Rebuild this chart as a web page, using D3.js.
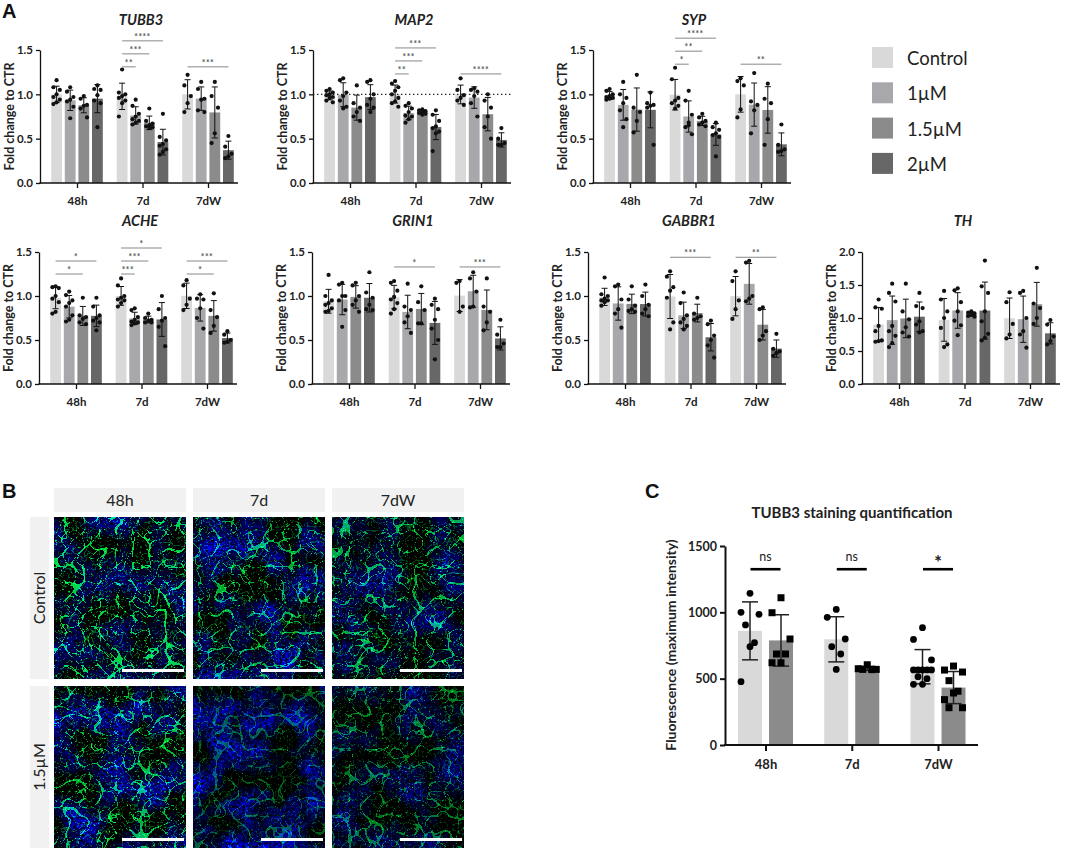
<!DOCTYPE html>
<html>
<head>
<meta charset="utf-8">
<script src="https://cdn.jsdelivr.net/npm/d3@7"></script>
<style>
  body { margin: 0; background: #fff; }
  svg { display: block; font-family: Lato, "Open Sans", sans-serif; }
</style>
</head>
<body>
<svg id="fig" width="1065" height="850"></svg>
<script>
// ---- data: fold change to CTR, one list of replicates per bar ----
const groups = ["48h", "7d", "7dW"]
const doses = ["Control", "1µM", "1.5µM", "2µM"]
const doseColors = ["#d9d9d9", "#a7a7ac", "#8b8b8b", "#676767"]

const tubb3 = [
  [[1.16,1.08,1.05,1.0,0.97,0.94,0.91,0.89],[1.08,1.03,0.97,0.94,0.92,0.86,0.73],[0.98,0.95,0.88,0.87,0.84,0.74],[1.1,1.06,1.05,0.99,0.93,0.9,0.63]],
  [[1.28,1.02,1.0,0.98,0.96,0.93,0.9,0.75],[0.94,0.87,0.78,0.75,0.72,0.7,0.68,0.66],[0.84,0.7,0.67,0.65,0.64,0.63,0.62],[0.78,0.52,0.48,0.44,0.42,0.38,0.35,0.32]],
  [[1.22,1.1,0.98,0.9,0.8],[1.14,1.06,0.95,0.94,0.82,0.8],[1.14,0.98,0.85,0.56,0.45],[0.53,0.41,0.33,0.3,0.28]]
]
const map2 = [
  [[1.06,1.04,1.02,1.0,0.99,0.97,0.96,0.93,0.91],[1.18,1.16,1.02,0.98,0.93,0.86,0.84],[1.1,0.9,0.85,0.8,0.75,0.7],[1.16,1.14,1.0,0.95,0.88,0.85,0.8]],
  [[1.15,1.12,1.08,1.04,1.0,0.96,0.92,0.9,0.86],[0.9,0.87,0.84,0.8,0.76,0.75,0.72,0.68],[0.83,0.82,0.81,0.8,0.79,0.78,0.77],[0.82,0.77,0.7,0.64,0.62,0.58,0.56,0.36]],
  [[1.18,1.05,0.99,0.96,0.93,0.88],[1.07,1.05,1.03,0.98,0.9,0.75],[1.0,0.93,0.85,0.75,0.63,0.5],[0.62,0.5,0.45,0.43,0.43]]
]
const syp = [
  [[1.06,1.04,1.0,0.98,0.97,0.96,0.95,0.94],[1.14,1.0,0.96,0.9,0.82,0.72,0.63],[1.22,0.85,0.8,0.7,0.57],[1.02,0.9,0.88,0.87,0.85,0.43]],
  [[1.3,1.17,0.96,0.93,0.9,0.87,0.84],[1.04,0.93,0.77,0.68,0.63,0.55,0.65],[0.78,0.74,0.7,0.68,0.66,0.64],[0.68,0.63,0.6,0.56,0.54,0.52,0.3]],
  [[1.18,1.15,1.1,0.83,0.74],[1.24,0.92,0.88,0.82,0.56],[1.12,0.95,0.9,0.72,0.43],[0.66,0.43,0.38,0.36,0.35]]
]
const ache = [
  [[1.11,1.1,1.09,1.0,0.97,0.93,0.82,0.8],[1.05,1.01,0.95,0.92,0.88,0.78,0.73,0.71],[0.98,0.78,0.76,0.74,0.7,0.68],[0.98,0.88,0.78,0.75,0.72,0.7,0.61]],
  [[1.2,1.12,1.0,0.98,0.96,0.95,0.92,0.88],[0.86,0.84,0.76,0.73,0.71,0.7,0.69,0.67],[0.8,0.75,0.73,0.72,0.7,0.7],[1.0,0.85,0.75,0.72,0.65,0.43]],
  [[1.18,1.12,0.97,0.9,0.84],[1.02,0.97,0.96,0.86,0.75,0.63],[1.03,0.84,0.76,0.66,0.58],[0.6,0.56,0.5,0.48,0.47]]
]
const grin1 = [
  [[1.24,1.0,0.95,0.92,0.9,0.86,0.83,0.82],[1.15,1.13,1.0,1.0,0.95,0.84,0.65],[1.15,1.12,1.0,0.95,0.9,0.82],[1.27,1.04,0.98,0.9,0.85,0.84]],
  [[1.17,1.15,1.06,0.99,0.96,0.92,0.85,0.8],[1.14,0.88,0.84,0.77,0.7,0.58],[1.11,0.93,0.84,0.69,0.69],[0.97,0.9,0.85,0.73,0.63,0.5,0.28]],
  [[1.17,1.15,0.88,0.82],[1.27,1.2,1.05,0.88,0.87],[1.2,0.88,0.82,0.7,0.61],[0.73,0.56,0.46,0.42,0.42]]
]
const gabbr1 = [
  [[1.21,1.02,1.0,0.97,0.95,0.95,0.93,0.89],[1.13,1.11,0.96,0.85,0.8,0.64],[1.11,0.96,0.89,0.85,0.83,0.82],[1.13,1.0,0.9,0.85,0.8,0.77]],
  [[1.28,1.22,1.1,1.06,0.98,0.7,0.62],[1.04,0.92,0.78,0.74,0.7,0.66,0.62],[0.98,0.8,0.77,0.75,0.73],[0.72,0.68,0.55,0.5,0.44,0.3]],
  [[1.28,1.17,0.95,0.85,0.74],[1.4,1.38,1.0,0.97,0.94],[0.87,0.85,0.6,0.55,0.5],[0.57,0.4,0.37,0.35,0.32]]
]
const th = [
  [[1.28,1.16,1.14,0.88,0.8,0.66,0.65,0.64],[1.52,1.38,1.25,0.88,0.8,0.73,0.62,0.56],[1.52,1.1,0.98,0.86,0.78,0.72],[1.38,1.18,1.15,0.95,0.9,0.8,0.78]],
  [[1.41,1.28,1.1,1.0,0.85,0.6,0.56],[1.45,1.42,1.24,1.1,0.96,0.89,0.74],[1.1,1.08,1.07,1.05,1.03,1.02],[1.87,1.48,1.38,1.1,0.95,0.76,0.7,0.66]],
  [[1.39,1.24,0.91,0.75,0.69],[1.41,1.38,1.0,0.8,0.75,0.55],[1.76,1.22,1.15,1.0,0.91],[0.97,0.9,0.72,0.65,0.6]]
]

// significance: [group, bar from, bar to, label] - stacked in listed order per group
const tubb3Sig = [["7d",0,1,"**"],["7d",0,2,"***"],["7d",0,3,"****"],["7dW",0,3,"***"]]
const map2Sig = [["7d",0,1,"**"],["7d",0,2,"***"],["7d",0,3,"***"],["7dW",0,3,"****"]]
const sypSig = [["7d",0,1,"*"],["7d",0,2,"**"],["7d",0,3,"****"],["7dW",0,3,"**"]]
const acheSig = [["48h",0,2,"*"],["48h",0,3,"*"],["7d",0,1,"***"],["7d",0,2,"***"],["7d",0,3,"*"],["7dW",0,2,"*"],["7dW",0,3,"***"]]
const grin1Sig = [["7d",0,3,"*"],["7dW",0,3,"***"]]
const gabbr1Sig = [["7d",0,3,"***"],["7dW",0,3,"**"]]

// panel C: TUBB3 maximum intensity, control vs 1.5µM
const stainControl = [[1143,1000,985,905,771,741,477],[1022,962,799,741,686,570],[884,796,641,566,566,566,566,566,515,500,457,457]]
const stainTreated = [[1110,997,799,686,686,620,620],[605,575,570,570,568],[595,565,550,485,405,392,342,281,281]]
const stainSig = ["ns","ns","*"]
const stainTicks = [0, 500, 1000, 1500]

// panel B image grid
const imageRows = ["Control", "1.5µM"]

const svg = d3.select("#fig")

// ---- panel A ----
const rows = [{base: 183, top: 50}, {base: 384, top: 252}]
const charts = [
  {gene: "TUBB3", values: tubb3, sig: tubb3Sig, x0: 40, row: 0, yMax: 1.5, sigBase: 1.31},
  {gene: "MAP2", values: map2, sig: map2Sig, x0: 313, row: 0, yMax: 1.5, sigBase: 1.23, ref: 1},
  {gene: "SYP", values: syp, sig: sypSig, x0: 593, row: 0, yMax: 1.5, sigBase: 1.34},
  {gene: "ACHE", values: ache, sig: acheSig, x0: 39, row: 1, yMax: 1.5, sigBase: 1.25},
  {gene: "GRIN1", values: grin1, sig: grin1Sig, x0: 312, row: 1, yMax: 1.5, sigBase: 1.33},
  {gene: "GABBR1", values: gabbr1, sig: gabbr1Sig, x0: 588, row: 1, yMax: 1.5, sigBase: 1.44},
  {gene: "TH", values: th, sig: [], x0: 862, row: 1, yMax: 2.0, sigBase: 1.5}
]

const barStep = 13.6, barW = 10.8
const jitterA = [0, -3.2, 3.2]

charts.forEach(c => {
  const r = rows[c.row]
  const y = d3.scaleLinear().domain([0, c.yMax]).range([r.base, r.top])
  const x = d3.scalePoint().domain(groups).range([c.x0 + 37, c.x0 + 168])
  const off = i => (i - 1.5) * barStep
  const g = svg.append("g")

  // bars, SD whiskers, replicates
  c.values.forEach((grp, gi) => {
    grp.forEach((vals, di) => {
      const m = d3.mean(vals), sd = d3.deviation(vals)
      const cx = x(groups[gi]) + off(di)
      g.append("rect")
        .attr("x", cx - barW / 2).attr("y", y(m))
        .attr("width", barW).attr("height", y(0) - y(m))
        .attr("fill", doseColors[di])
      g.append("line").attr("x1", cx).attr("x2", cx)
        .attr("y1", y(m - sd)).attr("y2", y(m + sd))
        .attr("stroke", "#111").attr("stroke-width", 1)
      ;[m - sd, m + sd].forEach(v => {
        g.append("line").attr("x1", cx - 3).attr("x2", cx + 3)
          .attr("y1", y(v)).attr("y2", y(v))
          .attr("stroke", "#111").attr("stroke-width", 1)
      })
      g.selectAll(null).data(vals).enter().append("circle")
        .attr("cx", (d, i) => cx + jitterA[i % 3])
        .attr("cy", d => y(d))
        .attr("r", 2.1).attr("fill", "#111")
    })
  })

  // reference line at 1.0
  if (c.ref) {
    g.append("line").attr("x1", c.x0).attr("x2", c.x0 + 198)
      .attr("y1", y(c.ref)).attr("y2", y(c.ref))
      .attr("stroke", "#222").attr("stroke-width", 1.1)
      .attr("stroke-dasharray", "1.4,2.6")
  }

  // significance brackets
  const levelCount = {}
  c.sig.forEach(s => {
    const lvl = levelCount[s[0]] || 0
    levelCount[s[0]] = lvl + 1
    const ly = y(c.sigBase) - lvl * 13
    const xa = x(s[0]) + off(s[1]), xb = x(s[0]) + off(s[2])
    g.append("line").attr("x1", xa).attr("x2", xb).attr("y1", ly).attr("y2", ly)
      .attr("stroke", "#888").attr("stroke-width", 1)
    g.append("text").attr("x", (xa + xb) / 2).attr("y", ly - 1)
      .attr("text-anchor", "middle").attr("font-size", 8.5).attr("font-weight", 700)
      .attr("fill", "#555").attr("letter-spacing", 0.5).text(s[3])
  })

  // axes
  const yAxis = g.append("g").attr("transform", `translate(${c.x0},0)`)
    .call(d3.axisLeft(y).tickValues(d3.range(0, c.yMax + 0.01, 0.5))
      .tickFormat(d3.format(".1f")).tickSize(4).tickSizeOuter(0).tickPadding(3))
  yAxis.select(".domain").attr("stroke", "#111").attr("stroke-width", 1.3)
  yAxis.selectAll(".tick line").attr("stroke", "#111").attr("stroke-width", 1.3)
  yAxis.selectAll("text").attr("font-size", 11.5).attr("font-weight", 700)
    .attr("fill", "#222").attr("font-family", "Lato, sans-serif")

  const xAxis = g.append("g").attr("transform", `translate(0,${r.base})`)
    .call(d3.axisBottom(x).tickSize(5).tickSizeOuter(0).tickPadding(9))
  xAxis.select(".domain").remove()
  xAxis.selectAll(".tick line").attr("stroke", "#111").attr("stroke-width", 1.3)
  xAxis.selectAll("text").attr("font-size", 11.5).attr("font-weight", 700)
    .attr("fill", "#222").attr("font-family", "Lato, sans-serif")
  g.append("line").attr("x1", c.x0 - 0.6).attr("x2", c.x0 + 198)
    .attr("y1", r.base).attr("y2", r.base)
    .attr("stroke", "#111").attr("stroke-width", 1.3)

  g.append("text")
    .attr("transform", `translate(${c.x0 - 26},${(r.base + r.top) / 2}) rotate(-90)`)
    .attr("text-anchor", "middle").attr("font-size", 12.5).attr("font-weight", 700)
    .attr("fill", "#222").text("Fold change to CTR")

  g.append("text").attr("x", c.x0 + 101).attr("y", r.base - 158)
    .attr("text-anchor", "middle").attr("font-size", 14.5).attr("font-weight", 700)
    .attr("font-style", "italic").attr("fill", "#222").text(c.gene)
})

// legend
const legend = svg.append("g").attr("transform", "translate(872,47)")
doses.forEach((d, i) => {
  legend.append("rect").attr("x", 0).attr("y", i * 35.3).attr("width", 21).attr("height", 21)
    .attr("fill", doseColors[i])
  legend.append("text").attr("x", 35).attr("y", i * 35.3 + 18)
    .attr("font-size", 18.5).attr("fill", "#222").text(d)
})

// panel letters
const letters = [["A", 2, 18], ["B", 2, 498], ["C", 645, 498]]
letters.forEach(l => {
  svg.append("text").attr("x", l[1]).attr("y", l[2])
    .attr("font-family", "'Liberation Sans', Arial, sans-serif")
    .attr("font-size", 20).attr("font-weight", 700).attr("fill", "#111").text(l[0])
})

// ---- panel B: micrograph stand-ins (procedural texture) ----
const colX = [54, 193, 332], rowY = [517, 686], imgW = 132, imgH = 162
const imgStyles = [
  [{g: 0.75, b: 0.6, seed: 3}, {g: 0.6, b: 0.8, seed: 7}, {g: 0.6, b: 0.6, seed: 11}],
  [{g: 0.65, b: 0.8, seed: 5}, {g: 0.32, b: 0.95, seed: 9}, {g: 0.42, b: 0.55, seed: 13}]
]
const defs = svg.append("defs")
function cm(f, input, values, result) {
  f.append("feColorMatrix").attr("in", input).attr("type", "matrix")
    .attr("values", values).attr("result", result)
}
function noise(f, type, freq, oct, seed, result) {
  f.append("feTurbulence").attr("type", type).attr("baseFrequency", freq)
    .attr("numOctaves", oct).attr("seed", seed).attr("result", result)
}
function comp(f, a, b, k1, k2, k3, result) {
  f.append("feComposite").attr("in", a).attr("in2", b).attr("operator", "arithmetic")
    .attr("k1", k1).attr("k2", k2).attr("k3", k3).attr("result", result)
}
imgStyles.forEach((rowS, ri) => rowS.forEach((s, ci) => {
  const f = defs.append("filter").attr("id", `mic${ri}${ci}`)
    .attr("x", 0).attr("y", 0).attr("width", 1).attr("height", 1)
    .attr("color-interpolation-filters", "sRGB")
  const g = s.g, b = s.b
  // thin green threads from zero crossings of two noise layers
  noise(f, "turbulence", 0.06, 1, s.seed, "t1")
  cm(f, "t1", `0 0 0 0 0  ${-60 * g} 0 0 0 ${1.1 * g}  ${-18 * g} 0 0 0 ${0.3 * g}  0 0 0 0 1`, "fil1")
  noise(f, "turbulence", 0.13, 1, s.seed + 4, "t2")
  cm(f, "t2", `0 0 0 0 0  ${-60 * g} 0 0 0 ${0.45 * g}  ${-18 * g} 0 0 0 ${0.1 * g}  0 0 0 0 1`, "fil2")
  comp(f, "fil1", "fil2", 0, 1, 1, "fil")
  noise(f, "fractalNoise", 0.45, 1, s.seed + 1, "sp")
  cm(f, "sp", `0 0 0 0 0  ${10 * g} 0 0 0 ${-6.6 * g}  ${2 * g} 0 0 0 ${-1.4 * g}  0 0 0 0 1`, "dots")
  comp(f, "fil", "dots", 0, 1, 1, "green")
  // blue nuclei background: broad patches modulated by fine grain
  noise(f, "fractalNoise", 0.03, 3, s.seed + 2, "p")
  cm(f, "p", `0 0 0 0 0  0 0 0 0 0  ${2.6 * b} 0 0 0 ${-0.95 * b}  0 0 0 0 1`, "patch")
  noise(f, "fractalNoise", 0.35, 2, s.seed + 3, "fn")
  cm(f, "fn", `0 0 0 0 0  0 0 0 0 0  2.5 0 0 0 -0.55  0 0 0 0 1`, "fine")
  comp(f, "patch", "fine", 1, 0, 0, "blue")
  comp(f, "green", "blue", 0, 1, 1, "out")
}))

groups.forEach((grp, ci) => {
  svg.append("rect").attr("x", colX[ci]).attr("y", 488).attr("width", imgW).attr("height", 24)
    .attr("fill", "#f1f1f1")
  svg.append("text").attr("x", colX[ci] + imgW / 2).attr("y", 506)
    .attr("text-anchor", "middle").attr("font-size", 16).attr("fill", "#222").text(grp)
})
imageRows.forEach((lab, ri) => {
  svg.append("rect").attr("x", 30).attr("y", rowY[ri]).attr("width", 19).attr("height", imgH)
    .attr("fill", "#f1f1f1")
  svg.append("text").attr("transform", `translate(45,${rowY[ri] + imgH / 2}) rotate(-90)`)
    .attr("text-anchor", "middle").attr("font-size", 16).attr("fill", "#222").text(lab)
  groups.forEach((grp, ci) => {
    svg.append("rect").attr("x", colX[ci]).attr("y", rowY[ri]).attr("width", imgW).attr("height", imgH)
      .attr("fill", "#000").attr("filter", `url(#mic${ri}${ci})`)
    svg.append("rect").attr("x", colX[ci] + 68).attr("y", rowY[ri] + 152)
      .attr("width", 62).attr("height", 3).attr("fill", "#fff")
  })
})

// ---- panel C ----
const yC = d3.scaleLinear().domain([0, 1500]).range([745, 546])
const xC = d3.scalePoint().domain(groups).range([765.5, 938])
const cBarW = 24, cOff = 15.5
const jitterC = [0, -9, 9, -4.5, 4.5]
const cg = svg.append("g")

cg.append("text").attr("x", 852).attr("y", 518).attr("text-anchor", "middle")
  .attr("font-size", 15).attr("font-weight", 700).attr("fill", "#222")
  .text("TUBB3 staining quantification")

const series = [
  {vals: stainControl, color: doseColors[0], dx: -cOff, shape: "circle"},
  {vals: stainTreated, color: doseColors[2], dx: cOff, shape: "square"}
]
series.forEach(s => {
  s.vals.forEach((vals, gi) => {
    const m = d3.mean(vals), sd = d3.deviation(vals)
    const cx = xC(groups[gi]) + s.dx
    cg.append("rect").attr("x", cx - cBarW / 2).attr("y", yC(m))
      .attr("width", cBarW).attr("height", yC(0) - yC(m)).attr("fill", s.color)
    cg.append("line").attr("x1", cx).attr("x2", cx).attr("y1", yC(m - sd)).attr("y2", yC(m + sd))
      .attr("stroke", "#222").attr("stroke-width", 1.5)
    ;[m - sd, m + sd].forEach(v => {
      cg.append("line").attr("x1", cx - 8).attr("x2", cx + 8).attr("y1", yC(v)).attr("y2", yC(v))
        .attr("stroke", "#222").attr("stroke-width", 1.5)
    })
    if (s.shape === "circle") {
      cg.selectAll(null).data(vals).enter().append("circle")
        .attr("cx", (d, i) => cx + jitterC[i % 5]).attr("cy", d => yC(d))
        .attr("r", 3.4).attr("fill", "#000")
    } else {
      cg.selectAll(null).data(vals).enter().append("rect")
        .attr("x", (d, i) => cx + jitterC[i % 5] - 3.5).attr("y", d => yC(d) - 3.5)
        .attr("width", 7).attr("height", 7).attr("fill", "#000")
    }
  })
})

stainSig.forEach((lab, gi) => {
  const c = xC(groups[gi]), ly = yC(1325)
  cg.append("line").attr("x1", c - 15).attr("x2", c + 15).attr("y1", ly).attr("y2", ly)
    .attr("stroke", "#000").attr("stroke-width", 2.6)
  cg.append("text").attr("x", c).attr("y", lab === "*" ? ly - 0.5 : ly - 8)
    .attr("text-anchor", "middle").attr("font-size", lab === "*" ? 19 : 12.5)
    .attr("font-weight", lab === "*" ? 700 : 400).attr("fill", "#222").text(lab)
})

const yAxC = cg.append("g").attr("transform", "translate(725,0)")
  .call(d3.axisLeft(yC).tickValues(stainTicks).tickFormat(d3.format("d"))
    .tickSize(5).tickSizeOuter(0).tickPadding(3))
yAxC.select(".domain").attr("stroke", "#111").attr("stroke-width", 2)
yAxC.selectAll(".tick line").attr("stroke", "#111").attr("stroke-width", 2)
yAxC.selectAll("text").attr("font-size", 12.5).attr("font-weight", 700)
  .attr("fill", "#222").attr("font-family", "Lato, sans-serif")

const xAxC = cg.append("g").attr("transform", "translate(0,745)")
  .call(d3.axisBottom(xC).tickSize(6).tickSizeOuter(0).tickPadding(9))
xAxC.select(".domain").remove()
xAxC.selectAll(".tick line").attr("stroke", "#111").attr("stroke-width", 2)
xAxC.selectAll("text").attr("font-size", 13).attr("font-weight", 700)
  .attr("fill", "#222").attr("font-family", "Lato, sans-serif")
cg.append("line").attr("x1", 724).attr("x2", 978).attr("y1", 745).attr("y2", 745)
  .attr("stroke", "#111").attr("stroke-width", 2)

cg.append("text").attr("transform", "translate(676,645) rotate(-90)")
  .attr("text-anchor", "middle").attr("font-size", 14).attr("font-weight", 700)
  .attr("fill", "#222").text("Fluorescence (maximum intensity)")
</script>
</body>
</html>
